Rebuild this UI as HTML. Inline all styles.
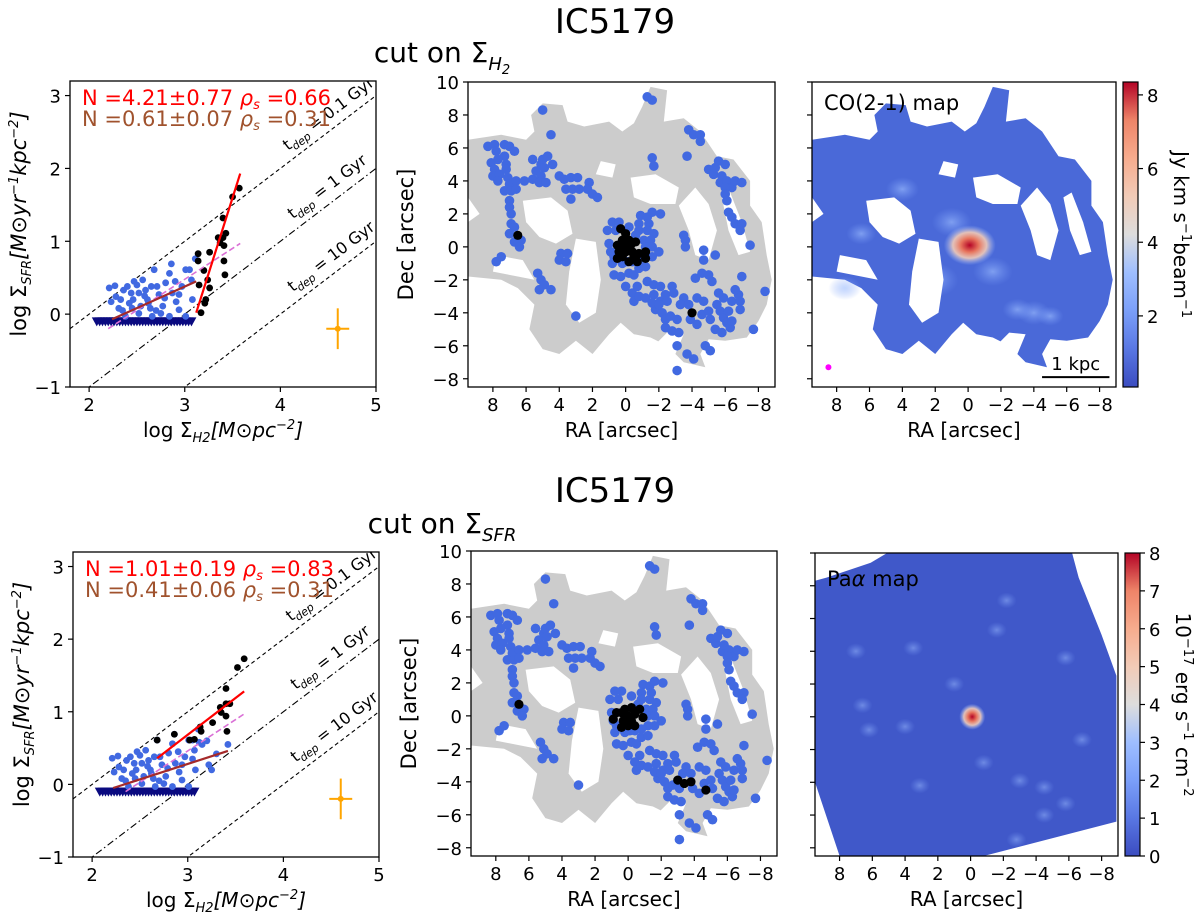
<!DOCTYPE html>
<html><head><meta charset="utf-8">
<style>
html,body{margin:0;padding:0;background:#fff;}
svg{display:block;font-family:"DejaVu Sans","Liberation Sans",sans-serif;}
</style></head>
<body>
<svg id="fig" width="1200" height="916" viewBox="0 0 1200 916" xmlns="http://www.w3.org/2000/svg">
<defs>
<linearGradient id="cw" x1="0" y1="1" x2="0" y2="0">
<stop offset="0" stop-color="#3b4cc0"/><stop offset="0.125" stop-color="#5977e3"/><stop offset="0.25" stop-color="#7b9ff9"/><stop offset="0.375" stop-color="#9ebeff"/><stop offset="0.5" stop-color="#dddddd"/><stop offset="0.625" stop-color="#f2cbb7"/><stop offset="0.75" stop-color="#f7ac8e"/><stop offset="0.875" stop-color="#ee8468"/><stop offset="1" stop-color="#b40426"/>
</linearGradient>
<radialGradient id="hot"><stop offset="0" stop-color="#b40426"/><stop offset="0.35" stop-color="#e8765e"/><stop offset="0.65" stop-color="#f2cbb7" stop-opacity="0.9"/><stop offset="1" stop-color="#9ebeff" stop-opacity="0"/></radialGradient>
<radialGradient id="lite"><stop offset="0" stop-color="#9ebeff" stop-opacity="0.9"/><stop offset="1" stop-color="#7b9ff9" stop-opacity="0"/></radialGradient>
</defs>
<g id="root"></g>
</svg>
<script>
// ---------- data ----------
const blueSigX=[2.21,2.27,2.23,2.28,2.31,2.36,2.40,2.44,2.46,2.45,2.52,2.56,2.59,2.61,2.64,2.68,2.71,2.73,2.77,2.80,2.84,2.86,2.87,2.91,2.94,2.97,3.01,3.05,3.07,3.11,3.08,2.94,2.66,2.52,2.38,2.84,3.01,2.47,2.54,2.75,2.33,2.65,2.79,2.42,2.58,2.70,2.90,2.50,2.62,2.35];
const blueSigY=[0.36,0.39,0.17,0.24,0.08,0.33,0.38,0.29,0.20,0.08,0.29,0.47,0.33,0.20,0.08,0.61,0.38,0.27,0.11,0.43,0.56,0.69,0.29,0.17,0.06,0.38,0.61,0.61,0.47,0.76,0.20,0.27,-0.03,0.01,-0.03,-0.03,-0.03,0.45,0.11,0.01,0.20,0.38,0.22,0.15,0.25,0.05,0.45,0.40,0.15,0.05];
const blueExtraX=[3.12,3.20,3.22,3.05,3.15,3.42,3.30,3.25];
const blueExtraY=[0.58,0.60,0.27,0.35,0.55,0.55,0.42,0.20];
const limitX=[2.08,2.11,2.14,2.17,2.20,2.23,2.26,2.29,2.32,2.35,2.38,2.41,2.44,2.47,2.50,2.53,2.56,2.59,2.62,2.65,2.68,2.71,2.74,2.77,2.80,2.83,2.86,2.89,2.92,2.95,2.98,3.01,3.04,3.07];
const limitY=-0.1;
const blackTopX=[3.14,3.14,3.20,3.15,3.26,3.24,3.26,3.22,3.21,3.17,3.40,3.35,3.40,3.43,3.41,3.41,3.42,3.50,3.57,3.37];
const blackTopY=[0.83,0.73,0.60,0.40,0.85,0.47,0.36,0.20,0.15,0.02,1.32,1.05,1.05,1.11,0.94,0.73,0.54,1.61,1.73,0.98];
const blackBotX=[2.68,2.86,3.02,3.07,3.13,3.14,3.26,3.35,3.34,3.40,3.44,3.40,3.40,3.41,3.52,3.59];
const blackBotY=[0.61,0.69,0.61,0.62,0.79,0.73,0.85,0.99,1.06,1.11,1.11,1.32,0.94,0.73,1.61,1.73];
const fitTop={red:[3.12,0.02,3.58,1.93],brown:[2.24,-0.07,3.12,0.45],pink:[2.2,-0.2,3.58,0.97]};
const fitBot={red:[2.68,0.36,3.59,1.28],brown:[2.22,-0.05,3.42,0.46],pink:[2.35,-0.1,3.59,0.97]};
const tdepOffsets=[2,3,4];
const tdepLabels=["0.1 Gyr","1 Gyr","10 Gyr"];
const tdepLabelPos=[[4.08,2.24],[4.13,1.30],[4.13,0.30]];
const xTicks1=[2,3,4,5];
const yTicks1=[-1,0,1,2,3];
const mapRA=[8.3,7.9,7.3,7.0,6.7,7.8,7.3,8.1,7.7,7.2,7.9,8.0,7.6,7.7,7.2,7.1,7.0,7.3,6.9,6.6,6.1,6.6,7.0,7.0,6.9,6.9,6.7,7.0,6.7,6.3,6.4,7.8,7.5,
5.6,5.1,5.0,4.7,4.4,5.4,4.9,5.1,5.6,5.2,4.8,4.5,5.0,4.0,3.7,3.3,2.9,3.6,3.2,2.8,3.3,2.2,2.3,2.0,1.7,
3.9,3.5,4.0,3.6,5.3,5.1,4.9,5.2,4.5,3.0,
0.8,0.4,-0.2,1.1,0.6,-0.9,-1.3,-1.6,-2.1,-0.8,-1.4,-0.8,-1.3,-1.7,-0.6,-1.1,-1.5,-1.2,-1.6,-2.0,-1.6,-1.2,-0.8,-0.4,-0.1,0.2,0.8,0.7,0.9,1.0,0.7,0.3,-0.2,-0.5,-0.8,-1.2,0.0,-0.4,-0.7,-0.5,-0.8,-1.2,-1.3,-1.7,-1.7,-2.1,-1.8,-1.6,-2.1,-2.4,-2.5,-2.8,-2.9,-2.0,-2.2,-2.4,-2.7,-2.4,-2.8,-3.1,-3.2,-3.1,
-3.5,-3.3,-3.8,-4.3,-4.7,-3.9,-4.3,-4.6,-5.0,-5.1,-5.4,-5.8,-5.5,-5.7,-5.9,-6.1,-6.3,-6.4,-6.2,-6.4,-5.9,-5.6,-6.8,-6.9,-6.9,-6.6,-7.0,-7.7,-8.4,-4.8,-5.1,-3.7,-4.1,-3.1,-4.7,-4.7,-5.4,-4.2,-4.6,-5.0,-5.2,-3.5,-3.6,-3.6,-3.7,-3.8,-4.1,-4.5,-4.5,-1.3,-1.6,-1.6,-1.7,
-5.0,-5.3,-5.6,-6.0,-5.4,-5.7,-5.8,-6.1,-6.4,-6.6,-7.0,-6.0,-6.0,-6.1,-6.2,-6.4,-6.6,-7.0,-6.9,-7.5];
const mapDec=[6.1,6.2,6.2,6.1,5.8,5.8,5.5,5.1,5.3,5.0,4.7,4.3,4.4,4.0,4.7,4.2,3.8,3.4,3.4,4.0,4.0,3.5,2.8,2.4,2.0,1.4,1.2,0.8,0.3,0.4,0.0,-0.9,-0.6,
5.3,5.0,5.3,5.5,5.0,4.6,4.8,4.3,4.1,3.9,3.9,6.8,8.3,4.3,4.1,4.2,4.2,3.5,3.5,3.5,2.9,3.9,3.5,3.2,3.0,
-0.4,-0.4,-0.8,-0.9,-1.6,-2.0,-2.3,-2.6,-2.6,-4.2,
1.5,1.5,1.2,1.0,1.0,1.9,1.8,2.1,2.0,1.4,1.4,1.0,1.0,0.8,0.7,0.4,0.4,0.0,0.0,-0.3,-0.6,-0.6,-0.8,-0.9,-0.9,-1.0,-1.0,-0.6,-0.3,0.2,-1.7,-1.8,-1.6,-1.7,-1.3,-1.2,-2.4,-2.8,-2.4,-3.3,-3.0,-3.1,-2.1,-2.3,-2.9,-2.4,-3.8,-3.4,-3.3,-2.9,-3.3,-2.4,-2.8,-3.5,-4.0,-4.4,-4.2,-4.9,-5.1,-4.4,-5.2,-6.0,
-3.1,-3.5,-3.5,-3.1,-3.3,-4.4,-4.7,-4.1,-3.9,-4.4,-5.0,-5.2,-3.5,-3.9,-4.3,-4.6,-4.9,-4.5,-3.9,-3.3,-3.1,-2.8,-2.9,-3.3,-3.8,-2.6,-1.8,-5.0,-2.7,-6.0,-6.3,-6.5,-6.8,-7.5,-0.2,-0.8,-0.5,-1.9,-1.6,-1.7,-2.1,0.7,0.4,0.0,5.5,7.1,6.8,6.8,6.4,9.1,8.9,5.4,4.9,
4.7,4.4,5.2,5.0,4.8,3.9,4.3,4.0,3.6,4.0,3.9,3.6,3.2,2.8,2.1,1.8,1.4,1.4,1.0,0.1];
const mapBlackTopRA=[6.5,0.3,0.0,0.2,-0.2,-0.6,0.5,0.1,-0.3,0.4,0.0,-0.4,-0.8,-1.2,0.5,0.2,-0.2,-0.5,-0.7,-1.2,-4.0];
const mapBlackTopDec=[0.7,1.1,0.8,0.4,0.4,0.3,0.1,0.0,0.1,-0.3,-0.3,-0.3,-0.4,-0.3,-0.7,-0.6,-0.9,-0.6,-0.9,-0.7,-4.0];
const mapBlackBotRA=[6.6,0.9,0.7,0.4,0.2,-0.2,-0.7,0.0,-0.4,-0.9,0.3,-0.2,0.4,0.0,-0.4,-3.0,-3.4,-3.8,-4.7];
const mapBlackBotDec=[0.7,-0.2,0.2,0.2,0.4,0.5,0.4,0.0,0.1,-0.1,-0.3,-0.3,-0.7,-0.6,-0.6,-3.9,-4.1,-4.0,-4.5];
const maskOuter=[[9.5,6.5],[7.5,6.8],[6,6.5],[5.5,7],[5.7,8],[5,8.7],[3.8,8.6],[3.5,7.6],[2.5,7.3],[1.0,7.6],[0.2,7.0],[-0.5,7.5],[-1,8.5],[-1.5,9.7],[-2.5,9.5],[-2.3,7.6],[-3.5,7.8],[-4.5,7.0],[-5.5,5.5],[-6.5,5.3],[-7.5,4.0],[-7.5,2.5],[-8.2,1.5],[-8.5,-0.5],[-8.8,-2],[-8.5,-3.5],[-8,-4.5],[-7.3,-5.5],[-6,-5.7],[-5,-5.6],[-4.5,-6.5],[-4.8,-7.3],[-3.5,-7.0],[-2.5,-6.0],[-1.5,-5.5],[-0.5,-5.3],[0.3,-4.6],[1,-5.3],[2,-6.5],[3,-5.7],[4,-6.5],[5,-6.2],[5.8,-5.0],[5.5,-3.5],[6.5,-2.5],[7.5,-2.0],[9.5,-1.8],[9.5,1.5],[8.8,2.0],[9.5,3]];
const maskHoles=[
[[6.2,2.8],[4.5,3.0],[3.5,2.2],[3.2,0.8],[4.2,0.2],[5.2,0.6],[6.0,1.5]],
[[3.0,0.5],[1.8,0.3],[1.5,-2.0],[1.8,-4.0],[2.8,-4.6],[3.6,-3.5],[3.4,-1.5]],
[[-0.3,4.2],[-1.8,4.4],[-3.2,3.6],[-3.0,2.6],[-1.5,2.6],[-0.5,3.0]],
[[-3.2,2.5],[-4.2,3.6],[-5.0,2.6],[-5.5,1.0],[-5.0,-0.8],[-4.2,-0.5],[-3.8,1.0]],
[[-5.8,3.0],[-6.3,3.3],[-7.0,1.5],[-7.5,-0.3],[-6.8,-0.5],[-6.2,1.0]],
[[7.8,-0.5],[6.2,-0.8],[5.5,-2.0],[6.5,-1.8],[8.0,-1.5]],
[[1.5,5.2],[0.6,5.0],[0.8,4.2],[1.8,4.4]],
[[-1.5,-6.2],[-2.5,-5.2],[-3.5,-5.3],[-3.0,-6.5]]];
const coBlobX=[6.5,-4.0,-3.0,-5.0,2.0,4.0,-1.5,7.5,1.0];
const coBlobY=[0.8,-4.0,-3.8,-4.2,-2.0,3.5,-1.5,-2.5,1.5];
const coBlobR=[0.9,1.0,0.9,0.8,1.4,1.0,1.2,1.0,1.2];
const paPoly=[[9.5,8.3],[8.8,8.5],[6.1,9.4],[5.1,10],[-6.2,10],[-6.6,8.5],[-7.2,7.0],[-8.0,5.0],[-8.9,2.5],[-8.9,-6.4],[-0.8,-8.5],[8.0,-8.5],[8.5,-7.0],[9.5,-4.0]];
const paBlobX=[6.6,7.0,3.5,1.0,-3.0,-4.5,-5.8,-6.8,3.1,4.0,6.2,-2.2,-0.8,-4.5,-1.6,-5.8,-2.8];
const paBlobY=[0.7,4.0,4.2,2.0,-3.9,-4.3,-5.3,-1.4,-4.2,-0.6,-0.8,7.1,-2.8,-6.0,5.3,3.6,-7.5];
const mapTicks=[8,6,4,2,0,-2,-4,-6,-8];
const decTicks=[10,8,6,4,2,0,-2,-4,-6,-8];
const cbTopTicks=[2,4,6,8];
const cbBotTicks=[0,1,2,3,4,5,6,7,8];

// ---------- helpers ----------
const NS="http://www.w3.org/2000/svg";
const root=document.getElementById('root');
function mk(tag,parent){const e=document.createElementNS(NS,tag);parent.appendChild(e);return e;}
function lin(d0,d1,r0,r1){return v=>r0+(v-d0)/(d1-d0)*(r1-r0);}
function txt(parent,x,y,s,size,anchor,fill){const t=mk('text',parent);t.setAttribute('x',x);t.setAttribute('y',y);t.setAttribute('font-size',size);t.setAttribute('text-anchor',anchor||'middle');t.setAttribute('fill',fill||'#000');t.innerHTML=s;return t;}
function line(parent,x1,y1,x2,y2,stroke,w,dash){const l=mk('line',parent);l.setAttribute('x1',x1);l.setAttribute('y1',y1);l.setAttribute('x2',x2);l.setAttribute('y2',y2);l.setAttribute('stroke',stroke);l.setAttribute('stroke-width',w);if(dash)l.setAttribute('stroke-dasharray',dash);return l;}
let clipN=0;
function clip(x0,y0,x1,y1){const c=mk('clipPath',root);c.id='c'+(clipN++);const r=mk('rect',c);r.setAttribute('x',x0);r.setAttribute('y',y0);r.setAttribute('width',x1-x0);r.setAttribute('height',y1-y0);return 'url(#'+c.id+')';}
function frame(parent,x0,y0,x1,y1){const r=mk('rect',parent);r.setAttribute('x',x0);r.setAttribute('y',y0);r.setAttribute('width',x1-x0);r.setAttribute('height',y1-y0);r.setAttribute('fill','none');r.setAttribute('stroke','#000');r.setAttribute('stroke-width',1.3);return r;}

// ---------- titles ----------
function titles(yT,yC,sub){
 const t=txt(root,615,yT,'IC5179',34);
 
 
 const c=txt(root,442,yC,'cut on Σ<tspan font-size="18" dy="8" font-style="italic">'+sub+'</tspan>',28);
 
 
}
titles(33,62,'H<tspan font-size="13" dy="4">2</tspan>');
titles(502,533,'SFR');

// ---------- scatter panel ----------
function ksPanel(P,blackX,blackY,fit,extra,labels){
 const g=mk('g',root);
 
 
 const X=lin(1.8,5,P[0],P[2]),Y=lin(-1,3.2,P[3],P[1]);
 const inner=mk('g',g);inner.setAttribute('clip-path',clip(P[0],P[1],P[2],P[3]));
 tdepOffsets.forEach((o,i)=>{
  const l=line(inner,X(1.8),Y(1.8-o),X(5),Y(5-o),'#000',1.1,i==1?'7,3,1.5,3':'4,3');
  
  
  const ang=-Math.atan((Y(0)-Y(1))/(X(1)-X(0)))*180/Math.PI;
  const t=txt(inner,X(tdepLabelPos[i][0]),Y(tdepLabelPos[i][1]),'t<tspan font-size="11" dy="4" font-style="italic">dep</tspan><tspan dy="-4"> = '+tdepLabels[i]+'</tspan>',16,'start');
  t.setAttribute('transform','rotate('+ang+' '+X(tdepLabelPos[i][0])+' '+Y(tdepLabelPos[i][1])+')');
  
  
 });
 limitX.forEach(x=>{const p=mk('path',inner);const cx=X(x),cy=Y(limitY);p.setAttribute('d',`M${cx-5},${cy-4}L${cx+5},${cy-4}L${cx},${cy+5}Z`);p.setAttribute('fill','#0a0a80');
  
  });
 const bx=blueSigX.concat(extra?blueExtraX:[]),by=blueSigY.concat(extra?blueExtraY:[]);
 bx.forEach((x,i)=>{const c=mk('circle',inner);c.setAttribute('cx',X(x));c.setAttribute('cy',Y(by[i]));c.setAttribute('r',3.4);c.setAttribute('fill','#4169e1');
  
  });
 blackX.forEach((x,i)=>{const c=mk('circle',inner);c.setAttribute('cx',X(x));c.setAttribute('cy',Y(blackY[i]));c.setAttribute('r',3.4);c.setAttribute('fill','#000');
  
  });
 const pk=line(inner,X(fit.pink[0]),Y(fit.pink[1]),X(fit.pink[2]),Y(fit.pink[3]),'#da70d6',1.6,'6,3');
 
 
 const br=line(inner,X(fit.brown[0]),Y(fit.brown[1]),X(fit.brown[2]),Y(fit.brown[3]),'#a52a2a',2.2);
 
 
 const rd=line(inner,X(fit.red[0]),Y(fit.red[1]),X(fit.red[2]),Y(fit.red[3]),'#ff0000',2.2);
 
 
 const ev=line(inner,X(4.6),Y(0.08),X(4.6),Y(-0.48),'#ffa500',2);
 
 
 line(inner,X(4.48),Y(-0.2),X(4.72),Y(-0.2),'#ffa500',2);
 const ed=mk('circle',inner);ed.setAttribute('cx',X(4.6));ed.setAttribute('cy',Y(-0.2));ed.setAttribute('r',3);ed.setAttribute('fill','#ffa500');
 const l1=txt(g,P[0]+12,P[1]+24,labels[0],21,'start','#ff0000');
 
 
 const l2=txt(g,P[0]+12,P[1]+45,labels[1],21,'start','#a0522d');
 
 
 frame(g,P[0],P[1],P[2],P[3]);
 xTicks1.forEach(v=>{line(g,X(v),P[3],X(v),P[3]+5,'#000',1.2);const t=txt(g,X(v),P[3]+24,String(v).replace('-','−'),18);
  
  });
 yTicks1.forEach(v=>{line(g,P[0]-5,Y(v),P[0],Y(v),'#000',1.2);const t=txt(g,P[0]-9,Y(v)+7,String(v).replace('-','−'),18,'end');
  
  });
 const xl=txt(g,(P[0]+P[2])/2,P[3]+50,'log Σ<tspan font-size="13" dy="5" font-style="italic">H2</tspan><tspan dy="-5" font-style="italic">[M<tspan font-style="normal">⊙</tspan>pc<tspan font-size="13" dy="-8">−2</tspan><tspan dy="8">]</tspan></tspan>',20);
 
 
 const cy=(P[1]+P[3])/2-10;
 const yl=txt(g,0,0,'log Σ<tspan font-size="13" dy="5" font-style="italic">SFR</tspan><tspan dy="-5" font-style="italic">[M<tspan font-style="normal">⊙</tspan>yr<tspan font-size="13" dy="-8">−1</tspan><tspan dy="8">kpc</tspan><tspan font-size="13" dy="-8">−2</tspan><tspan dy="8">]</tspan></tspan>',21);
 yl.setAttribute('transform','translate('+(P[0]-44)+','+cy+') rotate(-90)');
 
 
}
ksPanel([70,81,376,387],blackTopX,blackTopY,fitTop,false,
 ['N =4.21±0.77 <tspan font-style="italic">ρ<tspan font-size="13" dy="4">s</tspan></tspan><tspan dy="-4"> =0.66</tspan>','N =0.61±0.07 <tspan font-style="italic">ρ<tspan font-size="13" dy="4">s</tspan></tspan><tspan dy="-4"> =0.31</tspan>']);
ksPanel([73,552,379,857],blackBotX,blackBotY,fitBot,true,
 ['N =1.01±0.19 <tspan font-style="italic">ρ<tspan font-size="13" dy="4">s</tspan></tspan><tspan dy="-4"> =0.83</tspan>','N =0.41±0.06 <tspan font-style="italic">ρ<tspan font-size="13" dy="4">s</tspan></tspan><tspan dy="-4"> =0.31</tspan>']);

// ---------- map helpers ----------
function polyStr(pts,X,Y){return pts.map(p=>X(p[0]).toFixed(1)+','+Y(p[1]).toFixed(1)).join(' ');}
function mapAxes(g,P,X,Y,labelY){
 frame(g,P[0],P[1],P[2],P[3]);
 mapTicks.forEach(v=>{line(g,X(v),P[3],X(v),P[3]+5,'#000',1.2);const t=txt(g,X(v),P[3]+24,String(v).replace('-','−'),18);
  
  });
 decTicks.forEach(v=>{line(g,P[0]-5,Y(v),P[0],Y(v),'#000',1.2);if(labelY){const t=txt(g,P[0]-9,Y(v)+7,String(v).replace('-','−'),18,'end');
  
  }});
 const xl=txt(g,(P[0]+P[2])/2,P[3]+50,'RA [arcsec]',20);
 
 
 if(labelY){const yl=txt(g,0,0,'Dec [arcsec]',21);yl.setAttribute('transform','translate('+(P[0]-55)+','+((P[1]+P[3])/2)+') rotate(-90)');
  
  }
}
function maskMap(P,bRA,bDec){
 const g=mk('g',root);
 
 
 const X=lin(9.5,-9,P[0],P[2]),Y=lin(-8.5,10,P[3],P[1]);
 const inner=mk('g',g);inner.setAttribute('clip-path',clip(P[0],P[1],P[2],P[3]));
 const m=mk('polygon',inner);m.setAttribute('points',polyStr(maskOuter,X,Y));m.setAttribute('fill','#cccccc');
 
 
 maskHoles.forEach(h=>{const p=mk('polygon',inner);p.setAttribute('points',polyStr(h,X,Y));p.setAttribute('fill','#fff');});
 mapRA.forEach((x,i)=>{const c=mk('circle',inner);c.setAttribute('cx',X(x));c.setAttribute('cy',Y(mapDec[i]));c.setAttribute('r',4.8);c.setAttribute('fill','#4169e1');
  
  });
 bRA.forEach((x,i)=>{const c=mk('circle',inner);c.setAttribute('cx',X(x));c.setAttribute('cy',Y(bDec[i]));c.setAttribute('r',4.6);c.setAttribute('fill','#000');
  
  });
 mapAxes(g,P,X,Y,true);
}
maskMap([468,82,775,387],mapBlackTopRA,mapBlackTopDec);
maskMap([471,551,777,856],mapBlackBotRA,mapBlackBotDec);

function colorbar(C,vmin,vmax,ticks,label){
 const g=mk('g',root);
 
 
 const Y=lin(vmin,vmax,C[3],C[1]);
 const r=mk('rect',g);r.setAttribute('x',C[0]);r.setAttribute('y',C[1]);r.setAttribute('width',C[2]-C[0]);r.setAttribute('height',C[3]-C[1]);r.setAttribute('fill','url(#cw)');r.setAttribute('stroke','#000');r.setAttribute('stroke-width',1.2);
 ticks.forEach(v=>{line(g,C[2],Y(v),C[2]+5,Y(v),'#000',1.2);const t=txt(g,C[2]+9,Y(v)+7,String(v),18,'start');
  
  });
 const l=txt(g,0,0,label,20);l.setAttribute('transform','translate('+(C[2]+36)+','+((C[1]+C[3])/2)+') rotate(90)');
 
 
}

// CO map
(function(){
 const P=[812,82,1116,387];
 const g=mk('g',root);
 
 
 const X=lin(9.5,-9,P[0],P[2]),Y=lin(-8.5,10,P[3],P[1]);
 const inner=mk('g',g);inner.setAttribute('clip-path',clip(P[0],P[1],P[2],P[3]));
 const m=mk('polygon',inner);m.setAttribute('points',polyStr(maskOuter,X,Y));m.setAttribute('fill','#4a69d8');
 
 
 coBlobX.forEach((x,i)=>{const e=mk('ellipse',inner);e.setAttribute('cx',X(x));e.setAttribute('cy',Y(coBlobY[i]));e.setAttribute('rx',coBlobR[i]*16.5);e.setAttribute('ry',coBlobR[i]*12);e.setAttribute('fill','url(#lite)');e.setAttribute('opacity',0.7);});
 maskHoles.forEach(h=>{const p=mk('polygon',inner);p.setAttribute('points',polyStr(h,X,Y));p.setAttribute('fill','#fff');});
 const core=mk('ellipse',inner);core.setAttribute('cx',X(-0.1));core.setAttribute('cy',Y(0.1));core.setAttribute('rx',26);core.setAttribute('ry',20);core.setAttribute('fill','url(#hot)');
 
 
 const lab=txt(g,P[0]+12,P[1]+28,'CO(2-1) map',21,'start');
 
 
 const bm=mk('circle',inner);bm.setAttribute('cx',X(8.5));bm.setAttribute('cy',Y(-7.3));bm.setAttribute('r',3);bm.setAttribute('fill','#ff00ff');
 
 
 const sb=line(g,X(-4.5),Y(-7.9),X(-8.6),Y(-7.9),'#000',2);
 
 
 txt(g,(X(-4.5)+X(-8.6))/2,Y(-7.9)-7,'1 kpc',18);
 mapAxes(g,P,X,Y,false);
})();
colorbar([1123,82,1138,387],0.07,8.35,cbTopTicks,'Jy km s<tspan font-size="13" dy="-8">−1</tspan><tspan dy="8">beam</tspan><tspan font-size="13" dy="-8">−1</tspan>');

// Pa alpha map
(function(){
 const P=[815,553,1118,856];
 const g=mk('g',root);
 
 
 const X=lin(9.5,-9,P[0],P[2]),Y=lin(-8.5,10,P[3],P[1]);
 const inner=mk('g',g);inner.setAttribute('clip-path',clip(P[0],P[1],P[2],P[3]));
 const m=mk('polygon',inner);m.setAttribute('points',polyStr(paPoly,X,Y));m.setAttribute('fill','#4058c9');
 
 
 paBlobX.forEach((x,i)=>{const e=mk('ellipse',inner);e.setAttribute('cx',X(x));e.setAttribute('cy',Y(paBlobY[i]));e.setAttribute('rx',10);e.setAttribute('ry',8);e.setAttribute('fill','url(#lite)');e.setAttribute('opacity',0.55);});
 const core=mk('circle',inner);core.setAttribute('cx',X(-0.1));core.setAttribute('cy',Y(0));core.setAttribute('r',13);core.setAttribute('fill','url(#hot)');
 
 
 const lab=txt(g,P[0]+12,P[1]+33,'Pa<tspan font-style="italic">α</tspan> map',21,'start');
 
 
 mapAxes(g,P,X,Y,false);
})();
colorbar([1125,553,1140,856],0,8,cbBotTicks,'10<tspan font-size="13" dy="-8">−17</tspan><tspan dy="8"> erg s</tspan><tspan font-size="13" dy="-8">−1</tspan><tspan dy="8"> cm</tspan><tspan font-size="13" dy="-8">−2</tspan>');
</script>
</body></html>
